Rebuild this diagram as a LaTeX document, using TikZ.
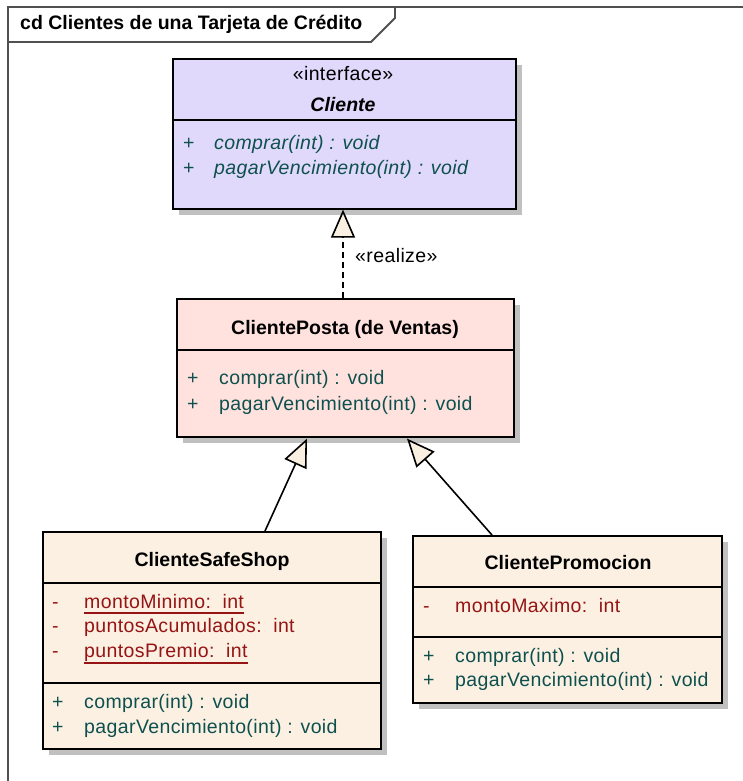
\documentclass[tikz,border=0pt]{standalone}
\usepackage{fontspec}
\setmainfont{Liberation Sans}
\newfontfamily\spacedsans[LetterSpace=2]{Liberation Sans}
\usetikzlibrary{calc,arrows.meta,shadows}

\definecolor{ifacefill}{RGB}{225,217,251}
\definecolor{postafill}{RGB}{255,226,222}
\definecolor{leaffill}{RGB}{251,240,226}
\definecolor{tipfill}{RGB}{250,240,226}
\definecolor{optext}{RGB}{14,80,78}
\definecolor{attrtext}{RGB}{150,20,20}
\definecolor{framegray}{RGB}{80,80,80}
\definecolor{shadowgray}{RGB}{192,192,192}

\begin{document}
\begin{tikzpicture}[x=1pt,y=-1pt,
  classbox/.style={draw=black, line width=1.6pt, rectangle, inner sep=0pt,
    anchor=north west,
    drop shadow={shadow xshift=6pt, shadow yshift=-6pt, fill=shadowgray, opacity=1}},
  divider/.style={draw=black, line width=1.6pt},
  txt/.style={inner sep=0pt, anchor=base west, font=\fontsize{19.5}{23}\spacedsans},
  nametxt/.style={inner sep=0pt, anchor=base, font=\fontsize{19.5}{23}\selectfont\bfseries},
  optxt/.style={txt, text=optext},
  attrtxt/.style={txt, text=attrtext},
  ulined/.style={draw=attrtext, line width=1.2pt},
  framelines/.style={draw=framegray, line width=1.8pt},
  hollowtip/.style={-{Triangle[length=28pt, width=24pt, fill=tipfill]}},
  generalize/.style={draw=black, line width=1.6pt, hollowtip},
  realize/.style={draw=black, line width=1.6pt, dash pattern=on 6pt off 4pt, hollowtip}
]
\useasboundingbox (0,0) rectangle (743,781);

% diagram frame with its title tab
\draw[framelines] (8,781) -- (8,7) -- (743,7);
\draw[framelines] (8,42) -- (371,42) -- (395,18) -- (395,7);
\node[txt, font=\fontsize{19.5}{23}\selectfont\bfseries] (title) at (20,30)
  {cd Clientes de una Tarjeta de Crédito};

% class boxes
\node[classbox, fill=ifacefill, minimum width=343pt, minimum height=150pt] (iface) at (172,58) {};
\node[classbox, fill=postafill, minimum width=337pt, minimum height=138pt] (posta) at (176,298) {};
\node[classbox, fill=leaffill, minimum width=338pt, minimum height=217pt] (safe) at (42,531) {};
\node[classbox, fill=leaffill, minimum width=309pt, minimum height=167pt] (promo) at (412,535) {};

% compartment dividers
\draw[divider] ($(iface.north west)+(0,62)$) -- ($(iface.north east)+(0,62)$);
\draw[divider] ($(posta.north west)+(0,52)$) -- ($(posta.north east)+(0,52)$);
\draw[divider] ($(safe.north west)+(0,52)$) -- ($(safe.north east)+(0,52)$);
\draw[divider] ($(safe.north west)+(0,152)$) -- ($(safe.north east)+(0,152)$);
\draw[divider] ($(promo.north west)+(0,52)$) -- ($(promo.north east)+(0,52)$);
\draw[divider] ($(promo.north west)+(0,102)$) -- ($(promo.north east)+(0,102)$);

% interface Cliente
\node[nametxt, font=\fontsize{19.5}{23}\spacedsans] (ifacestereo) at (343,81) {«interface»};
\node[nametxt, font=\fontsize{19.5}{23}\selectfont\bfseries\itshape] (ifacename) at (343,112) {Cliente};
\node[optxt] (ifacev1) at (183,149) {+};
\node[optxt, font=\fontsize{19.5}{23}\spacedsans\itshape] (ifaceop1) at (214,149) {comprar(int) : void};
\node[optxt] (ifacev2) at (183,174) {+};
\node[optxt, font=\fontsize{19.5}{23}\spacedsans\itshape] (ifaceop2) at (214,174) {pagarVencimiento(int) : void};

% ClientePosta
\node[nametxt] (postaname) at (345,334) {ClientePosta (de Ventas)};
\node[optxt] (postav1) at (187,384) {+};
\node[optxt] (postaop1) at (219,384) {comprar(int) : void};
\node[optxt] (postav2) at (187,410) {+};
\node[optxt] (postaop2) at (219,410) {pagarVencimiento(int) : void};

% ClienteSafeShop
\node[nametxt] (safename) at (212,566) {ClienteSafeShop};
\node[attrtxt] (safev1) at (52,608) {-};
\node[attrtxt] (safeat1) at (84,608) {montoMinimo:\ \ int};
\node[attrtxt] (safev2) at (52,632) {-};
\node[attrtxt] (safeat2) at (84,632) {puntosAcumulados:\ \ int};
\node[attrtxt] (safev3) at (52,657) {-};
\node[attrtxt] (safeat3) at (84,657) {puntosPremio:\ \ int};
\draw[ulined] ($(safeat1.base west)+(0,5)$) -- ($(safeat1.base east)+(0,5)$);
\draw[ulined] ($(safeat3.base west)+(0,6)$) -- ($(safeat3.base east)+(0,6)$);
\node[optxt] (safev4) at (52,708) {+};
\node[optxt] (safeop1) at (84,708) {comprar(int) : void};
\node[optxt] (safev5) at (52,733) {+};
\node[optxt] (safeop2) at (84,733) {pagarVencimiento(int) : void};

% ClientePromocion
\node[nametxt] (promoname) at (568,569) {ClientePromocion};
\node[attrtxt] (promov1) at (423,612) {-};
\node[attrtxt] (promoat1) at (455,612) {montoMaximo:\ \ int};
\node[optxt] (promov2) at (423,662) {+};
\node[optxt] (promoop1) at (455,662) {comprar(int) : void};
\node[optxt] (promov3) at (423,686) {+};
\node[optxt] (promoop2) at (455,686) {pagarVencimiento(int) : void};

% realization and generalizations
\draw[realize] ($(posta.north west)+(167,0)$) -- ($(iface.south west)+(171,0)$);
\node[txt] (realizelbl) at (355,262) {«realize»};
\draw[generalize] ($(safe.north west)+(223,0)$) -- ($(posta.south west)+(131,1)$);
\draw[generalize] ($(promo.north west)+(80,0)$) -- ($(posta.south west)+(231,1)$);
\end{tikzpicture}
\end{document}
